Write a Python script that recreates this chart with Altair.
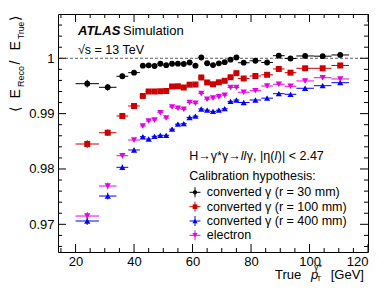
import altair as alt
import pandas as pd

FONT = "Liberation Sans"

# ---------------- data ----------------
bin_center = [24, 31, 36, 40, 43, 45, 47, 49, 51, 53, 55, 57, 59, 61, 63, 65, 67,
              69, 71, 73, 75, 77.5, 81.5, 85.5, 89.5, 93.5, 98.5, 104.5, 110.5]
bin_halfwidth = [4, 3, 2, 2, 1, 1, 1, 1, 1, 1, 1, 1, 1, 1, 1, 1, 1,
                 1, 1, 1, 1, 2, 2, 2, 2, 2, 3, 3, 3]
y_error = [0.0007, 0.0006, 0.0005, 0.0004, 0.0003, 0.0003, 0.0003, 0.0003, 0.0003,
           0.0003, 0.0003, 0.0003, 0.0003, 0.0003, 0.0003, 0.0003, 0.0003, 0.0003,
           0.0003, 0.0003, 0.0003, 0.0003, 0.0003, 0.0003, 0.0003, 0.0003, 0.0003,
           0.0003, 0.0003]

conv_r30 = [0.99541, 0.99476, 0.99675, 0.99740, 0.99866, 0.99873, 0.99861, 0.99901,
            0.99875, 0.99901, 0.99902, 0.99897, 0.99924, 0.99866, 1.00014, 0.99910,
            0.99877, 0.99908, 0.99930, 0.99975, 1.00014, 0.99920, 0.99955, 0.99924,
            1.00047, 0.99996, 1.00042, 1.00038, 1.00060]
conv_r100 = [0.98451, 0.98655, 0.98957, 0.99138, 0.99319, 0.99400, 0.99400, 0.99404,
             0.99409, 0.99490, 0.99494, 0.99472, 0.99523, 0.99526, 0.99653, 0.99563,
             0.99530, 0.99566, 0.99593, 0.99657, 0.99731, 0.99635, 0.99680, 0.99702,
             0.99807, 0.99740, 0.99819, 0.99819, 0.99870]
conv_r400 = [0.97060, 0.97511, 0.98030, 0.98343, 0.98583, 0.98541, 0.98590, 0.98608,
             0.98608, 0.98719, 0.98809, 0.98818, 0.98930, 0.98954, 0.99084, 0.99062,
             0.99040, 0.99062, 0.99089, 0.99221, 0.99246, 0.99201, 0.99246, 0.99279,
             0.99360, 0.99349, 0.99458, 0.99505, 0.99559]
electron = [0.97150, 0.97692, 0.98240, 0.98523, 0.98776, 0.98867, 0.98885, 0.99017,
            0.98921, 0.99120, 0.99096, 0.99078, 0.99201, 0.99187, 0.99364, 0.99261,
            0.99282, 0.99304, 0.99333, 0.99472, 0.99472, 0.99386, 0.99414, 0.99499,
            0.99530, 0.99494, 0.99590, 0.99649, 0.99626]

series_names = ["converted γ (r = 30 mm)", "converted γ (r = 100 mm)",
                "converted γ (r = 400 mm)", "electron"]
series_values = [conv_r30, conv_r100, conv_r400, electron]
series_colors = ["#000000", "#cc0000", "#0000ff", "#e600e6"]
series_shapes = ["circle", "square", "triangle-up", "triangle-down"]
series_sizes = [34, 40, 50, 50]

x_major = [20, 40, 60, 80, 100, 120]
x_minor = [15, 25, 30, 35, 45, 50, 55, 65, 70, 75, 85, 90, 95, 105, 110, 115]
y_major = [0.97, 0.98, 0.99, 1.0]
y_minor = [0.966, 0.968, 0.972, 0.974, 0.976, 0.978, 0.982, 0.984, 0.986, 0.988,
           0.992, 0.994, 0.996, 0.998, 1.002, 1.004, 1.006]

# ---------------- table ----------------
rows = []
for name, vals in zip(series_names, series_values):
    for xc, hw, ye, v in zip(bin_center, bin_halfwidth, y_error, vals):
        rows.append({"series": name, "x": xc, "xlo": xc - hw, "xhi": xc + hw,
                     "y": v, "ylo": v - ye, "yhi": v + ye})
df = pd.DataFrame(rows)

W, H = 310, 238
xscale = alt.Scale(domain=[14, 120], nice=False, zero=False)
yscale = alt.Scale(domain=[0.965, 1.008], nice=False, zero=False)
xaxis = alt.Axis(values=x_major, format="d", title=None, ticks=False, domain=False,
                 grid=False, labelFont=FONT, labelFontSize=13, labelColor="black",
                 labelPadding=3)
yaxis = alt.Axis(values=y_major, format="~g", title=None, ticks=False, domain=False,
                 grid=False, labelFont=FONT, labelFontSize=13, labelColor="black",
                 labelPadding=4)

color_enc = alt.Color("series:N", scale=alt.Scale(domain=series_names, range=series_colors),
                      legend=None)
shape_enc = alt.Shape("series:N", scale=alt.Scale(domain=series_names, range=series_shapes),
                      legend=None)
size_enc = alt.Size("series:N", scale=alt.Scale(domain=series_names, range=series_sizes),
                    legend=None)

base = alt.Chart(df)
hbars = base.mark_rule(strokeWidth=1).encode(
    x=alt.X("xlo:Q", scale=xscale, axis=xaxis), x2="xhi:Q",
    y=alt.Y("y:Q", scale=yscale, axis=yaxis), color=color_enc)
vbars = base.mark_rule(strokeWidth=1).encode(
    x=alt.X("x:Q", scale=xscale, axis=xaxis),
    y=alt.Y("ylo:Q", scale=yscale, axis=yaxis), y2="yhi:Q", color=color_enc)
points = base.mark_point(filled=True, opacity=1).encode(
    x=alt.X("x:Q", scale=xscale, axis=xaxis),
    y=alt.Y("y:Q", scale=yscale, axis=yaxis),
    color=color_enc, shape=shape_enc, size=size_enc)

ref_line = alt.Chart(pd.DataFrame({"v": [1.0]})).mark_rule(
    color="#333333", strokeWidth=0.8, strokeDash=[3, 2]).encode(
    y=alt.Y("v:Q", scale=yscale, axis=yaxis))


def yticks(vals, length):
    d = alt.Chart(pd.DataFrame({"v": vals}))
    left = d.mark_rule(color="black", strokeWidth=1).encode(
        y=alt.Y("v:Q", scale=yscale, axis=yaxis), x=alt.value(0), x2=alt.value(length))
    right = d.mark_rule(color="black", strokeWidth=1).encode(
        y=alt.Y("v:Q", scale=yscale, axis=yaxis), x=alt.value(W), x2=alt.value(W - length))
    return [left, right]


def xticks(vals, length):
    d = alt.Chart(pd.DataFrame({"v": vals}))
    bottom = d.mark_rule(color="black", strokeWidth=1).encode(
        x=alt.X("v:Q", scale=xscale, axis=xaxis), y=alt.value(H), y2=alt.value(H - length))
    top = d.mark_rule(color="black", strokeWidth=1).encode(
        x=alt.X("v:Q", scale=xscale, axis=xaxis), y=alt.value(0), y2=alt.value(length))
    return [bottom, top]


def txt(s, x, y, size=12.5, angle=0, style="normal", weight="normal", align="left"):
    return alt.Chart(alt.Data(values=[{}])).mark_text(
        text=s, font=FONT, fontSize=size, fontStyle=style, fontWeight=weight,
        align=align, baseline="alphabetic", angle=angle, color="black").encode(
        x=alt.value(x), y=alt.value(y))


layers = []
layers += yticks(y_major, 8) + yticks(y_minor, 4) + xticks(x_major, 8) + xticks(x_minor, 4)
layers += [ref_line, hbars, vbars, points]

# ATLAS label
layers += [txt("ATLAS", 20, 21, size=13, style="italic", weight="bold"),
           txt("Simulation", 65, 21, size=13),
           txt("√s = 13 TeV", 20, 39.5, size=12.5)]

# legend header (with italic leptons)
hx = 131.3
layers += [txt("H→γ*γ→", hx, 146, size=12.5),
           txt("ll", hx + 51.4, 146, size=12.5, style="italic"),
           txt("γ, |η(", hx + 57.5, 146, size=12.5),
           txt("l", hx + 85.3, 146, size=12.5, style="italic"),
           txt(")| < 2.47", hx + 88.5, 146, size=12.5),
           txt("Calibration hypothesis:", hx, 166, size=12.5)]

# legend entries
leg_y = [178.3, 192.7, 207.0, 221.3]
mx = 137
for name, col, shp, sz, ly in zip(series_names, series_colors, series_shapes,
                                  series_sizes, leg_y):
    one = alt.Chart(alt.Data(values=[{}]))
    layers.append(one.mark_rule(color=col, strokeWidth=1).encode(
        x=alt.value(mx - 5.5), x2=alt.value(mx + 5.5), y=alt.value(ly)))
    layers.append(one.mark_rule(color=col, strokeWidth=1).encode(
        x=alt.value(mx), y=alt.value(ly - 5), y2=alt.value(ly + 5)))
    layers.append(one.mark_point(filled=True, opacity=1).encode(
        x=alt.value(mx), y=alt.value(ly), color=alt.value(col),
        shape=alt.value(shp), size=alt.value(sz * 0.55)))
    layers.append(txt(name, 148.7, ly + 3.8, size=12.5))

# y axis title  < E_Reco / E_True >
yb, ys = -38.5, -34.5
layers += [txt("⟨", yb, 98, size=14, angle=270),
           txt("E", yb, 84.5, size=14, angle=270),
           txt("Reco", ys, 73, size=9, angle=270),
           txt("/", yb, 50.5, size=14, angle=270),
           txt("E", yb, 36.5, size=14, angle=270),
           txt("True", ys, 25, size=8.5, angle=270),
           txt("⟩", yb, 7, size=14, angle=270)]

# x axis title  True p_T^{γ*} [GeV]
layers += [txt("True", 217, 265, size=13),
           txt("p", 253, 265, size=13, style="italic"),
           txt("γ*", 256, 256, size=9),
           txt("T", 258.5, 266.5, size=8),
           txt("[GeV]", 272.7, 265, size=13)]

chart = alt.layer(*layers).properties(
    width=W, height=H,
    padding={"left": 50, "top": 6, "right": 10, "bottom": 30},
    autosize=alt.AutoSizeParams(type="none"),
).configure_view(stroke="black", strokeWidth=1)

chart.save("out.html", embed_options={"renderer": "svg", "actions": False})
